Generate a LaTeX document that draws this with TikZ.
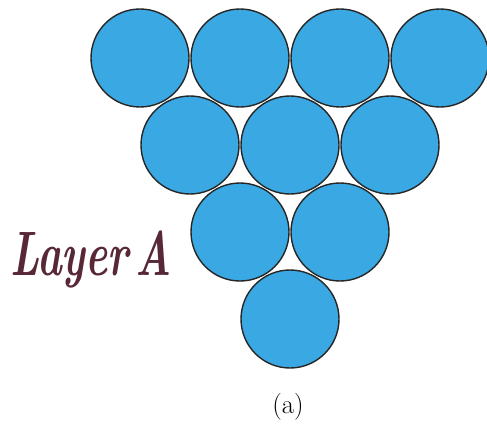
\documentclass[tikz,border=0pt]{standalone}
\usepackage{fontspec}
\usepackage{graphicx}
\usepackage{xcolor}
\usetikzlibrary{positioning}

\definecolor{ballblue}{RGB}{58,168,226}
\definecolor{inkmaroon}{RGB}{88,40,55}

\tikzset{
    ball/.style={circle, draw=black!85, line width=1.4pt, fill=ballblue,
        minimum size=98bp, inner sep=0pt},
}

\begin{document}
\begin{tikzpicture}[x=1bp, y=1bp]
    \useasboundingbox (0,0) rectangle (487,423);

    % layer A balls
    \foreach \i/\x in {1/140, 2/240, 3/340, 4/440}
        \node[ball] (top\i) at (\x,365) {};
    \foreach \i/\x in {1/190, 2/290, 3/390}
        \node[ball] (mid\i) at (\x,278) {};
    \foreach \i/\x in {1/240, 2/340}
        \node[ball] (low\i) at (\x,191) {};
    \node[ball] (tip) at (290,104) {};

    % labels
    \node[inkmaroon, font=\fontsize{42}{42}\selectfont\bfseries\itshape] (layer) at (91,163)
        {\scalebox{1}[1.5]{Layer\,A}};
    \node[font=\fontsize{27}{27}\selectfont] (caption) at (288,16) {(a)};
\end{tikzpicture}
\end{document}
